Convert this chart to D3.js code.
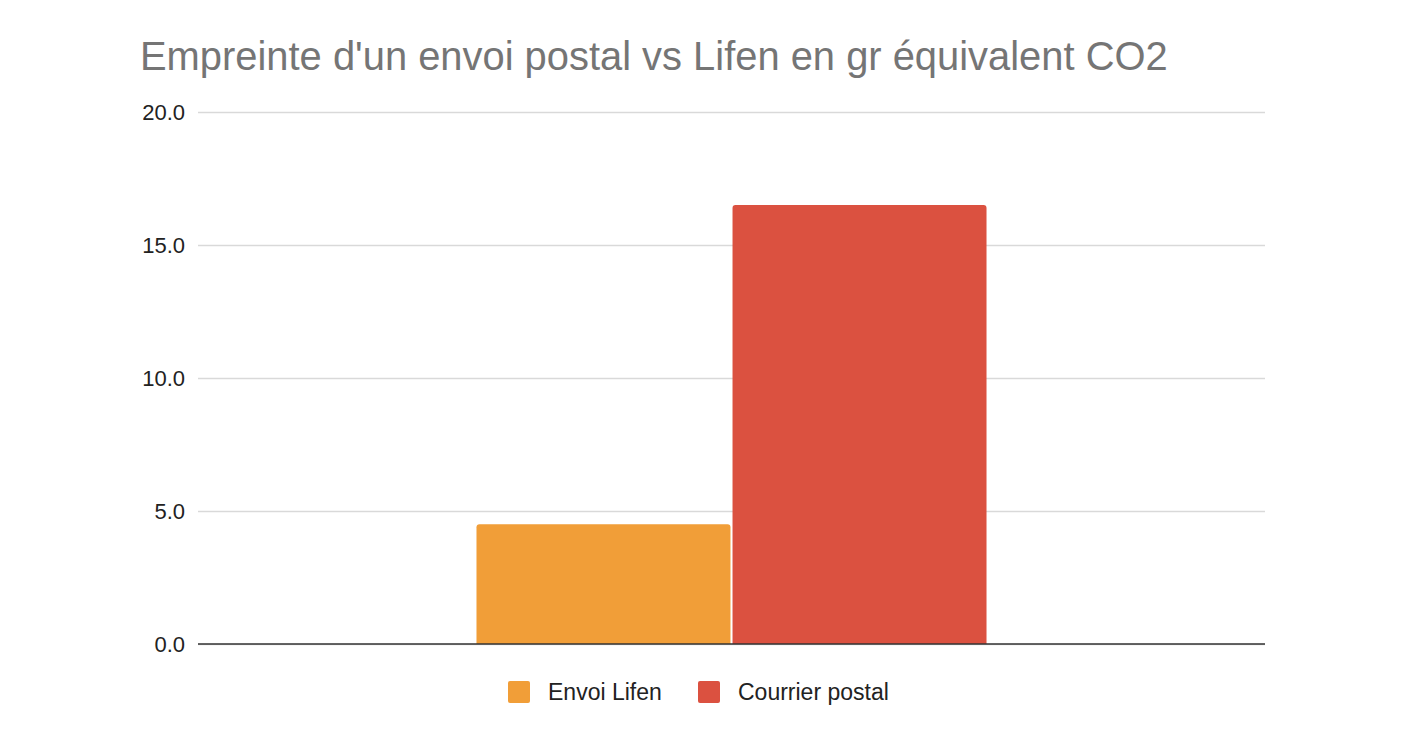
<!DOCTYPE html>
<html><head><meta charset="utf-8">
<script src="https://cdn.jsdelivr.net/npm/d3@7"></script>
<style>body{margin:0;background:#fff;}svg{display:block;font-family:"Liberation Sans",Arial,sans-serif;}</style>
</head><body>
<svg id="chart" width="1418" height="732"></svg>
<script>
const title = "Empreinte d'un envoi postal vs Lifen en gr équivalent CO2";
const categories = [""];
const seriesNames = ["Envoi Lifen", "Courrier postal"];
const seriesValues = [4.5, 16.5];
const seriesColors = ["#f19e38", "#db5140"];
const yTicks = [0, 5, 10, 15, 20];

const svg = d3.select("#chart");
const m = {left: 198, right: 1265, top: 112, bottom: 644};
const y = d3.scaleLinear().domain([0, 20]).range([m.bottom, m.top]);
const x0 = d3.scaleBand().domain(categories).range([m.left, m.right]).paddingInner(0).paddingOuter(0.546);
const x1 = d3.scaleBand().domain(seriesNames).range([0, x0.bandwidth()]).paddingInner(0.008);

// title
const t = svg.append("text").attr("x", 140).attr("y", 70).attr("fill", "#757575")
  .style("font-size", "37px").text(title);
const tw = t.node().getComputedTextLength();
t.style("font-size", (37 * 1028 / tw) + "px");

// gridlines and y labels
const yAxis = d3.axisLeft(y).tickValues(yTicks).tickFormat(d3.format(".1f")).tickSize(-(m.right - m.left)).tickPadding(13);
const g = svg.append("g").attr("transform", `translate(${m.left},0)`).call(yAxis);
g.select(".domain").remove();
g.selectAll(".tick line").attr("stroke", "#d9d9d9").attr("stroke-width", 1.3);
g.selectAll(".tick text").attr("fill", "#222").style("font-size", "22px").style("font-family", '"Liberation Sans",Arial,sans-serif');

// bars
const rx = 3;
function barPath(x, yTop, w, h) {
  return `M${x},${yTop + h}V${yTop + rx}Q${x},${yTop} ${x + rx},${yTop}H${x + w - rx}Q${x + w},${yTop} ${x + w},${yTop + rx}V${yTop + h}Z`;
}
categories.forEach(c => {
  seriesNames.forEach((s, i) => {
    const bx = x0(c) + x1(s);
    const v = seriesValues[i];
    svg.append("path")
      .attr("d", barPath(bx, y(v), x1.bandwidth(), y(0) - y(v)))
      .attr("fill", seriesColors[i]);
  });
});

// baseline
svg.append("line").attr("x1", m.left).attr("x2", m.right).attr("y1", y(0)).attr("y2", y(0))
  .attr("stroke", "#333").attr("stroke-width", 1.5);

// legend
const legendX = [508, 698];
seriesNames.forEach((s, i) => {
  svg.append("rect").attr("x", legendX[i]).attr("y", 681).attr("width", 22).attr("height", 22)
    .attr("rx", 2).attr("fill", seriesColors[i]);
  svg.append("text").attr("x", legendX[i] + 40).attr("y", 700).attr("fill", "#222")
    .style("font-size", "23px").text(s);
});
</script>
</body></html>
